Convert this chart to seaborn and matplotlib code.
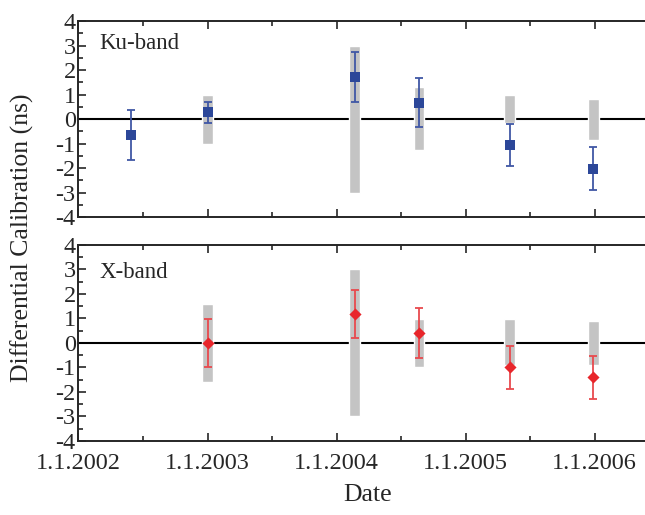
import numpy as np
import matplotlib
matplotlib.use("Agg")
import matplotlib.pyplot as plt
import pandas as pd
import seaborn as sns
from matplotlib.ticker import MultipleLocator, FixedLocator

# dates as decimal years
ku_date = [2002.41, 2003.0, 2004.14, 2004.64, 2005.34, 2005.99]
ku_val = [-0.65, 0.27, 1.70, 0.67, -1.05, -2.02]
ku_err = [1.02, 0.42, 1.02, 1.00, 0.85, 0.87]

ku_band_date = [2003.0, 2004.14, 2004.64, 2005.34, 2005.99]
ku_band_lo = [-1.0, -3.0, -1.27, -0.18, -0.87]
ku_band_hi = [1.0, 3.0, 1.30, 1.0, 0.82]

x_date = [2003.0, 2004.14, 2004.64, 2005.34, 2005.99]
x_val = [0.0, 1.18, 0.41, -1.00, -1.40]
x_err = [0.99, 0.98, 1.02, 0.88, 0.88]

x_band_date = [2003.0, 2004.14, 2004.64, 2005.34, 2005.99]
x_band_lo = [-1.6, -3.0, -0.96, -0.90, -0.88]
x_band_hi = [1.58, 3.0, 0.98, 0.99, 0.88]

year_ticks = [2002, 2003, 2004, 2005, 2006]
year_labels = ["1.1.2002", "1.1.2003", "1.1.2004", "1.1.2005", "1.1.2006"]

sns.set_style("ticks")
plt.rcParams['font.family'] = ['Liberation Serif', 'DejaVu Serif']

fig = plt.figure(figsize=(6.45, 5.15), dpi=100)
ax1 = fig.add_axes([0.1217, 0.5786, 0.8783, 0.3804])
ax2 = fig.add_axes([0.1217, 0.1437, 0.8783, 0.3806])

panels = [
    (ax1, ku_date, ku_val, ku_err, ku_band_date, ku_band_lo, ku_band_hi,
     "#2c4799", "#4057a5", "s", 42, "Ku-band", 3.1),
    (ax2, x_date, x_val, x_err, x_band_date, x_band_lo, x_band_hi,
     "#e8262b", "#e84a4e", "D", 38, "X-band", 2.87),
]

for ax, d, v, e, bd, blo, bhi, mc, ec, mk, ms, name, ty in panels:
    ax.axhline(0, color="black", lw=1.5, zorder=1)
    ax.bar(bd, np.array(bhi) - np.array(blo), bottom=blo, width=0.08,
           color="#c4c4c4", zorder=2)
    ax.errorbar(d, v, yerr=e, fmt="none", ecolor=ec, elinewidth=1.3,
                capsize=3, capthick=1.3, zorder=3)
    df = pd.DataFrame({"date": d, "value": v})
    sns.scatterplot(data=df, x="date", y="value", ax=ax, marker=mk, s=ms,
                    color=mc, edgecolor=mc, linewidth=0, zorder=4)
    ax.text(2002.16, ty, name, fontsize=16.5, ha="left", va="center")

    ax.set_xlim(2002.0, 2006.39)
    ax.set_ylim(-4, 4)
    ax.xaxis.set_major_locator(FixedLocator(year_ticks))
    ax.xaxis.set_minor_locator(MultipleLocator(0.5))
    ax.yaxis.set_major_locator(MultipleLocator(1))
    ax.yaxis.set_minor_locator(MultipleLocator(0.5))
    ax.tick_params(which="both", direction="in", top=True, right=False,
                   width=1.2, labelsize=17.5)
    ax.tick_params(axis="y", pad=2)
    ax.tick_params(axis="x", pad=9)
    ax.tick_params(which="major", length=6)
    ax.tick_params(which="minor", length=3.5)
    ax.set_yticks(range(-4, 5))
    ax.set_yticklabels([str(i) for i in range(-4, 5)])
    ax.set_xlabel("")
    ax.set_ylabel("")
    ax.spines["right"].set_visible(False)
    for s in ["left", "top", "bottom"]:
        ax.spines[s].set_linewidth(1.4)

ax1.set_xticks(year_ticks)
ax1.set_xticklabels([])
ax2.set_xticks(year_ticks)
ax2.set_xticklabels(year_labels)

fig.text(0.034, 0.539, "Differential Calibration (ns)", rotation=90,
         ha="center", va="center", fontsize=18.5)
fig.text(368 / 645, 1 - 495 / 515, "Date", ha="center", va="center",
         fontsize=18.5)

fig.savefig("out.png", dpi=100)
